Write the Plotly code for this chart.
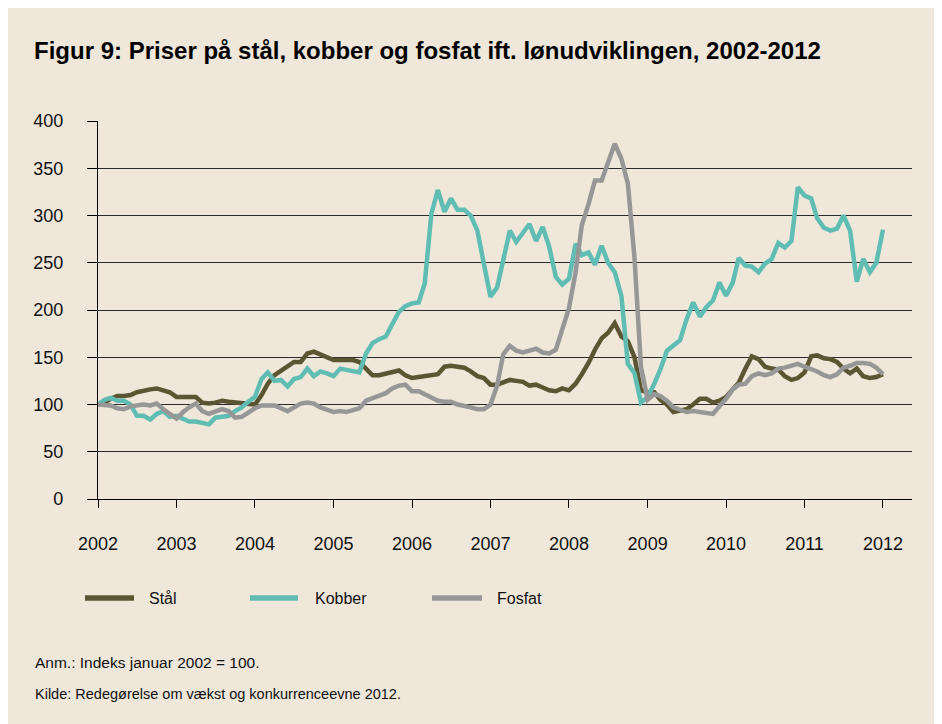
import pandas as pd
import plotly.graph_objects as go

# ---- data (monthly index, January 2002 = 100) ----
months = pd.date_range("2002-01-01", periods=121, freq="MS")

staal = [
    100, 102, 106, 109, 109, 110, 113, 115, 116, 117, 115, 113,   # 2002
    108, 108, 108, 108, 102, 101, 102, 104, 103, 102, 101, 100,   # 2003
    100, 110, 122, 131, 136, 141, 145, 145, 154, 156, 153, 149,   # 2004
    147, 147, 147, 147, 145, 137, 131, 131, 133, 134, 136, 131,   # 2005
    128, 129, 130, 131, 132, 140, 141, 140, 139, 135, 130, 128,   # 2006
    121, 121, 123, 126, 125, 124, 120, 121, 118, 115, 114, 117,   # 2007
    115, 122, 132, 144, 158, 170, 176, 186, 172, 167, 150, 115,   # 2008
    113, 113, 105, 100, 92, 93, 95, 100, 106, 106, 102, 104,      # 2009
    108, 116, 123, 138, 151, 148, 140, 138, 137, 130, 126, 128,   # 2010
    134, 151, 152, 149, 148, 145, 138, 133, 138, 130, 128, 129,   # 2011
    132,                                                          # 2012
]

kobber = [
    100, 105, 107, 104, 104, 100, 88, 88, 84, 90, 93, 87,         # 2002
    88, 85, 82, 82, 80, 79, 86, 87, 88, 93, 97, 103,              # 2003
    108, 127, 134, 125, 126, 119, 127, 129, 138, 130, 135, 133,   # 2004
    130, 138, 137, 136, 134, 154, 165, 169, 172, 185, 198, 204,   # 2005
    207, 208, 228, 302, 327, 304, 318, 306, 306, 300, 284, 249,   # 2006
    214, 224, 255, 284, 272, 281, 291, 273, 288, 267, 235, 227,   # 2007
    233, 270, 258, 261, 248, 268, 250, 240, 215, 143, 133, 102,   # 2008
    108, 122, 137, 157, 162, 168, 190, 208, 193, 203, 210, 229,   # 2009
    215, 229, 255, 247, 246, 240, 249, 254, 271, 266, 273, 330,   # 2010
    321, 318, 297, 287, 284, 286, 300, 284, 230, 254, 240, 250,   # 2011
    285,                                                          # 2012
]

fosfat = [
    100, 100, 99, 96, 95, 98, 99, 100, 99, 101, 95, 90,           # 2002
    85, 92, 97, 101, 93, 90, 93, 95, 93, 86, 87, 92,              # 2003
    96, 99, 99, 99, 96, 93, 97, 101, 102, 101, 97, 94,            # 2004
    92, 93, 92, 94, 96, 104, 107, 109, 112, 117, 120, 121,        # 2005
    114, 114, 111, 108, 104, 103, 103, 100, 99, 97, 95, 95,       # 2006
    100, 120, 153, 162, 157, 155, 157, 159, 155, 154, 158, 180,   # 2007
    202, 240, 290, 312, 337, 337, 358, 376, 360, 334, 255, 140,   # 2008
    105, 111, 109, 104, 97, 94, 92, 93, 92, 90, 90, 98,           # 2009
    106, 116, 121, 122, 130, 133, 131, 133, 138, 139, 141, 143,   # 2010
    140, 138, 135, 131, 129, 132, 139, 141, 144, 144, 143, 139,   # 2011
    132,                                                          # 2012
]

series_names = ["Stål", "Kobber", "Fosfat"]
series_values = [staal, kobber, fosfat]
series_colors = ["#5B5631", "#5FBDB4", "#979797"]

year_ticks = [f"{y}-01-01" for y in range(2002, 2013)]
year_labels = [str(y) for y in range(2002, 2013)]
y_ticks = [0, 50, 100, 150, 200, 250, 300, 350, 400]

title_text = "Figur 9: Priser på stål, kobber og fosfat ift. lønudviklingen, 2002-2012"
note_text = "Anm.: Indeks januar 2002 = 100."
source_text = "Kilde: Redegørelse om vækst og konkurrenceevne 2012."

# ---- layout geometry (pixels, in figure coordinates; page adds an 8px offset) ----
OFF = 8
W, H = 942, 724
L = 98 - OFF
T = 121 - OFF
R = W - (912 - OFF)
B = H - (499 - OFF)
PW = W - L - R
PH = H - T - B
BG = "#EEE7DA"
FONT = "Liberation Sans, Arial, sans-serif"


def px_x(px):
    """page pixel x (as in the reference) -> paper fraction"""
    return (px - OFF - L) / PW


def px_y(py):
    """page pixel y (as in the reference) -> paper fraction"""
    return (H - B - (py - OFF)) / PH


fig = go.Figure()
for name, vals, col in zip(series_names, series_values, series_colors):
    fig.add_trace(go.Scatter(
        x=months, y=vals, mode="lines", name=name,
        line=dict(color=col, width=4.5), showlegend=False,
    ))

shapes = []
annotations = []
legend_line_x = [(85, 134), (250, 298), (432, 482)]
legend_text_x = [147, 313, 495]
leg_y = px_y(598)
for (x0, x1), tx, name, col in zip(legend_line_x, legend_text_x, series_names, series_colors):
    shapes.append(dict(type="line", xref="paper", yref="paper",
                       x0=px_x(x0), x1=px_x(x1), y0=leg_y, y1=leg_y,
                       line=dict(color=col, width=5.5)))
    annotations.append(dict(xref="paper", yref="paper", x=px_x(tx), y=leg_y,
                            xanchor="left", yanchor="middle", showarrow=False,
                            text=name, font=dict(family=FONT, size=16, color="#111")))

annotations.append(dict(xref="paper", yref="paper", x=px_x(33), y=px_y(662),
                        xanchor="left", yanchor="middle", showarrow=False,
                        text=note_text, font=dict(family=FONT, size=15.5, color="#111")))
annotations.append(dict(xref="paper", yref="paper", x=px_x(33), y=px_y(694),
                        xanchor="left", yanchor="middle", showarrow=False,
                        text=source_text, font=dict(family=FONT, size=14.5, color="#111")))

fig.update_layout(
    width=W, height=H,
    margin=dict(l=L, r=R, t=T, b=B, autoexpand=False),
    paper_bgcolor=BG, plot_bgcolor=BG,
    title=dict(text=title_text, x=(34 - OFF) / W, xanchor="left", xref="container",
               y=1 - (51 - OFF) / H, yanchor="middle", yref="container",
               font=dict(family=FONT, size=24, color="#000", weight="bold")),
    font=dict(family=FONT, color="#111"),
    shapes=shapes,
    annotations=annotations,
    xaxis=dict(
        type="date",
        range=["2002-01-01", "2012-05-15"],
        tickvals=year_ticks, ticktext=year_labels,
        showgrid=False, zeroline=False,
        showline=True, linecolor="#000", linewidth=1.3,
        ticks="outside", ticklen=8, tickcolor="#000", tickwidth=1.2,
        tickfont=dict(family=FONT, size=18, color="#111"),
        ticklabelstandoff=20,
    ),
    yaxis=dict(
        range=[0, 400],
        tickvals=y_ticks,
        showgrid=True, gridcolor="#2A2A2A", gridwidth=1.2,
        zeroline=False,
        showline=True, linecolor="#000", linewidth=1.3,
        ticks="outside", ticklen=10, tickcolor="#000", tickwidth=1.2,
        tickfont=dict(family=FONT, size=18, color="#111"),
        ticklabelstandoff=20,
    ),
)

fig.write_html("out.html")
